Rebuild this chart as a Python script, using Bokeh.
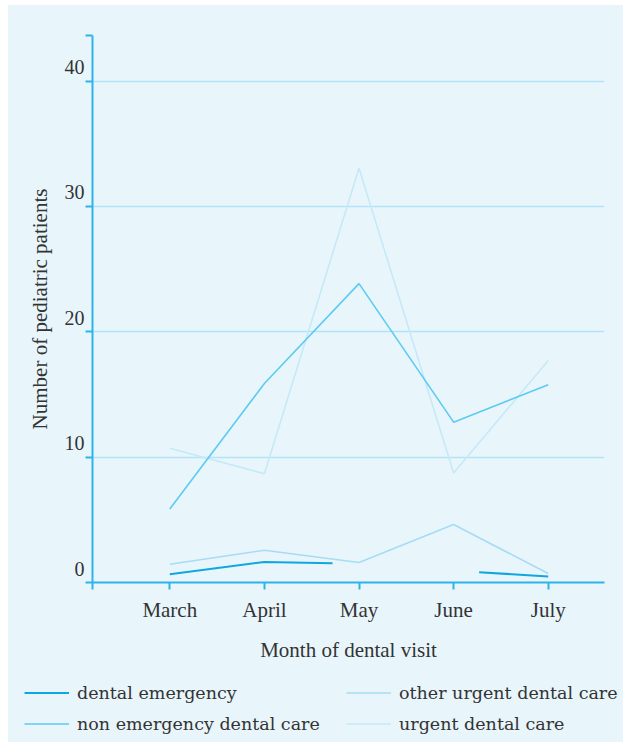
from bokeh.plotting import figure
from bokeh.layouts import column
from bokeh.models import Range1d, LinearAxis, FixedTicker, Legend, LegendItem
from bokeh.embed import file_html
from bokeh.resources import INLINE

nan = float("nan")

# ---- data ----
months = ["March", "April", "May", "June", "July"]
month_x = [1, 2, 3, 4, 5]

# dental emergency line has gaps in the original
de_x = [1, 2, 2.72, nan, 4.27, 5]
de_y = [0.66, 1.64, 1.54, nan, 0.82, 0.48]
non_emergency_y = [5.86, 15.87, 23.84, 12.79, 15.77]
other_urgent_y = [1.46, 2.57, 1.59, 4.62, 0.72]
urgent_y = [10.7, 8.68, 33.05, 8.73, 17.7]
y_ticks = [0, 10, 20, 30, 40]

series_names = ["dental emergency", "non emergency dental care",
                "other urgent dental care", "urgent dental care"]

# ---- style ----
BG = "#e8f6fc"
AXIS = "#2cb4ea"
GRID = "#b3e1f5"
TEXT = "#333333"
C_DE = "#10a6df"
C_NON = "#5ccbf2"
C_OTHER = "#a6dcf4"
C_URG = "#c6e9f8"
colors = [C_DE, C_NON, C_OTHER, C_URG]
widths = [2, 1.6, 1.6, 1.6]

X_START, X_END = 0.183, 5.595
Y_END = 43.63
LABEL_SHIFT = 1.115

p = figure(width=615, height=665, output_backend="svg", toolbar_location=None,
           x_range=Range1d(X_START, X_END), y_range=Range1d(0, Y_END),
           min_border_left=84, min_border_right=19, min_border_top=30,
           min_border_bottom=88)
p.frame_align = False
p.background_fill_color = BG
p.border_fill_color = BG
p.outline_line_color = None

# lines
p.line(month_x, urgent_y, line_color=C_URG, line_width=1.6)
p.line(month_x, other_urgent_y, line_color=C_OTHER, line_width=1.6)
p.line(month_x, non_emergency_y, line_color=C_NON, line_width=1.6)
p.line(de_x, de_y, line_color=C_DE, line_width=2)

# grid
p.xgrid.visible = False
yt = FixedTicker(ticks=y_ticks + [Y_END])
p.ygrid.ticker = yt
p.ygrid.grid_line_color = GRID
p.ygrid.grid_line_width = 1.5

# x axis
xa = p.xaxis[0]
xa.ticker = FixedTicker(ticks=[X_START] + month_x)
ov = {X_START: ""}
ov.update({x: m for x, m in zip(month_x, months)})
xa.major_label_overrides = ov
xa.axis_line_color = AXIS
xa.axis_line_width = 2
xa.major_tick_line_color = AXIS
xa.major_tick_line_width = 2
xa.major_tick_out = 7
xa.major_tick_in = 0
xa.minor_tick_line_color = None
xa.major_label_standoff = 8
xa.major_label_text_font = "Liberation Serif"
xa.major_label_text_font_size = "21px"
xa.major_label_text_color = TEXT
xa.axis_label = "Month of dental visit"
xa.axis_label_text_font = "Liberation Serif"
xa.axis_label_text_font_size = "21px"
xa.axis_label_text_font_style = "normal"
xa.axis_label_text_color = TEXT
xa.axis_label_standoff = 13

# y axis (line + ticks)
ya = p.yaxis[0]
ya.ticker = yt
ya.major_label_overrides = {t: "" for t in y_ticks + [Y_END]}
ya.axis_line_color = AXIS
ya.axis_line_width = 2
ya.major_tick_line_color = AXIS
ya.major_tick_line_width = 2
ya.major_tick_out = 7
ya.major_tick_in = 0
ya.minor_tick_line_color = None
ya.major_label_standoff = 0

# y labels, raised above their grid lines
p.extra_y_ranges = {"lab": Range1d(-LABEL_SHIFT, Y_END - LABEL_SHIFT)}
yb = LinearAxis(y_range_name="lab", ticker=FixedTicker(ticks=y_ticks))
yb.axis_line_color = None
yb.major_tick_line_color = None
yb.minor_tick_line_color = None
yb.major_tick_out = 0
yb.major_tick_in = 0
yb.major_label_standoff = 1
yb.major_label_text_font = "Liberation Serif"
yb.major_label_text_font_size = "20px"
yb.major_label_text_color = TEXT
yb.axis_label = "Number of pediatric patients"
yb.axis_label_text_font = "Liberation Serif"
yb.axis_label_text_font_size = "21px"
yb.axis_label_text_font_style = "normal"
yb.axis_label_text_color = TEXT
yb.axis_label_standoff = 10
p.add_layout(yb, "left")

# ---- legend strip below the chart ----
lp = figure(width=615, height=72, output_backend="svg", toolbar_location=None,
            x_range=Range1d(0, 1), y_range=Range1d(0, 1),
            min_border=0, min_border_left=0, min_border_right=0,
            min_border_top=0, min_border_bottom=0)
lp.frame_align = False
lp.background_fill_color = BG
lp.border_fill_color = BG
lp.outline_line_color = None
lp.axis.visible = False
lp.grid.visible = False

items = []
for name, c, w in zip(series_names, colors, widths):
    # legend proxy: a one-point NaN line draws nothing but gives the legend its style
    r = lp.line([nan], [nan], line_color=c, line_width=w)
    items.append(LegendItem(label=name, renderers=[r]))

legend = Legend(items=items, location=(16, 3), orientation="vertical", nrows=2)
legend.glyph_width = 45
legend.glyph_height = 31
legend.label_height = 31
legend.label_width = 269
legend.label_standoff = 8
legend.spacing = 0
legend.padding = 0
legend.margin = 0
legend.label_text_font = "DejaVu Serif"
legend.label_text_font_size = "17.5px"
legend.label_text_color = TEXT
legend.background_fill_alpha = 0
legend.border_line_alpha = 0
lp.add_layout(legend, "center")

root = column(p, lp, spacing=0)
root.margin = (5, 0, 0, 8)
root.styles = {"background-color": BG}

open("out.html", "w").write(file_html(root, INLINE))
